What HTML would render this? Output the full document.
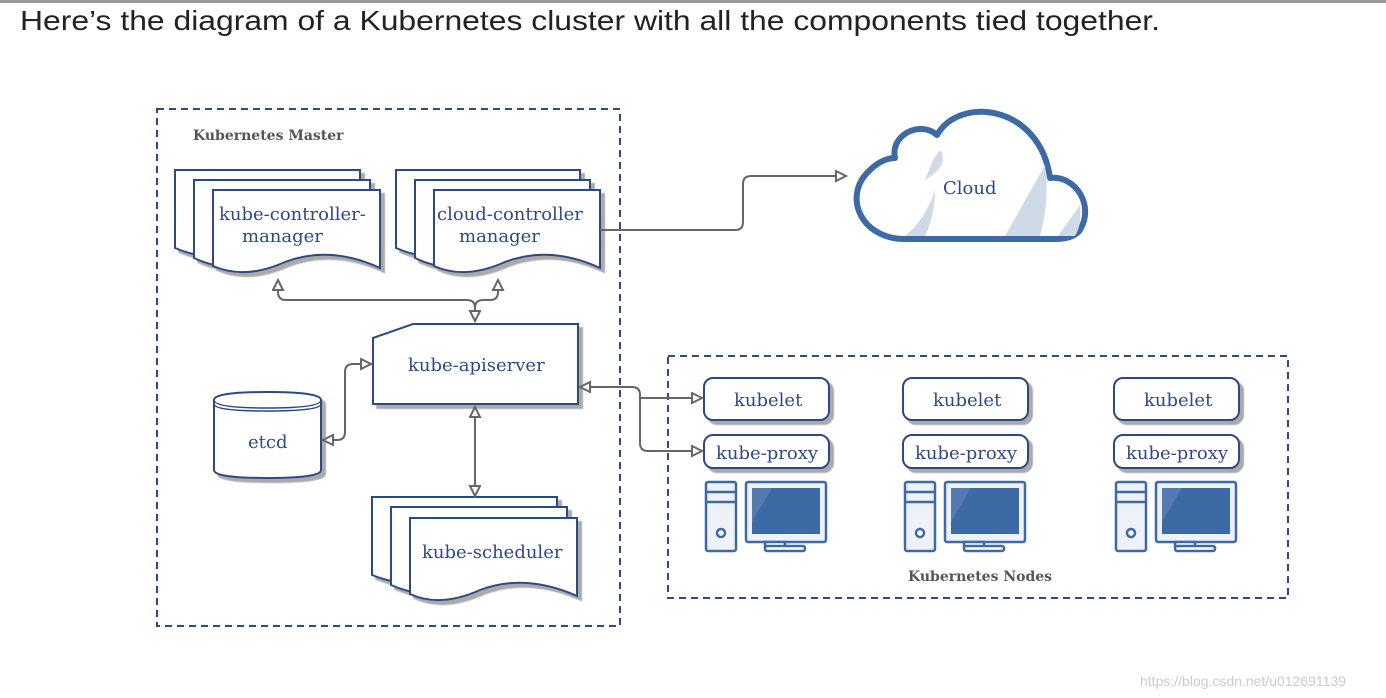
<!DOCTYPE html>
<html><head><meta charset="utf-8"><style>
html,body{margin:0;padding:0;background:#fff;width:1386px;height:698px;overflow:hidden}
svg{display:block}
.t{font-family:"DejaVu Serif","Liberation Serif",serif;fill:#2c4a86;font-size:18px}
.b{font-family:"DejaVu Serif","Liberation Serif",serif;fill:#555;font-size:14px;font-weight:bold}
</style></head><body>
<svg width="1386" height="698" viewBox="0 0 1386 698" xmlns="http://www.w3.org/2000/svg">
<defs>
<marker id="a" markerWidth="14" markerHeight="14" refX="11" refY="6" orient="auto-start-reverse" markerUnits="userSpaceOnUse">
<path d="M1,1 L11,6 L1,11 Z" fill="#fff" stroke="#666" stroke-width="2"/></marker>
<filter id="s" x="-10%" y="-10%" width="130%" height="130%"><feDropShadow dx="4" dy="4" stdDeviation="0.5" flood-color="#aaa"/></filter>
</defs>
<rect x="0" y="0" width="1386" height="3" fill="#999"/>
<text x="20" y="30" font-family="Liberation Sans,sans-serif" font-size="28" fill="#222" textLength="1140" lengthAdjust="spacingAndGlyphs">Here’s the diagram of a Kubernetes cluster with all the components tied together.</text>

<rect x="157" y="109" width="463" height="517" fill="none" stroke="#2c4a86" stroke-width="2" stroke-dasharray="7,5"/>
<rect x="668" y="356" width="620" height="242" fill="none" stroke="#2c4a86" stroke-width="2" stroke-dasharray="7,5"/>
<text class="b" x="193" y="140">Kubernetes Master</text>
<text class="b" x="908" y="581">Kubernetes Nodes</text>

<g fill="#fff" stroke="#2c4a86" stroke-width="2" filter="url(#s)">
<path d="M175,170 H360 V248 Q300,230 260,250 Q215,265 175,248 Z"/>
<path d="M194,180 H370 V258 Q310,240 270,260 Q230,275 194,258 Z"/>
<path d="M213,190 H380 V268 Q330,245 285,262 Q245,280 213,266 Z"/>
<path d="M396,170 H580 V248 Q520,230 480,250 Q435,265 396,248 Z"/>
<path d="M415,180 H590 V258 Q530,240 490,260 Q450,275 415,258 Z"/>
<path d="M434,190 H600 V268 Q550,245 505,262 Q465,280 434,266 Z"/>
<path d="M372,497 H557 V575 Q500,557 460,577 Q415,592 372,575 Z"/>
<path d="M391,507 H567 V585 Q510,567 470,587 Q430,602 391,585 Z"/>
<path d="M410,518 H577 V596 Q525,573 480,590 Q440,608 410,594 Z"/>
<path d="M373,338 L413,324 H578 V404 H373 Z"/>
<path d="M214,400 Q214,392 267,392 Q321,392 321,400 V470 Q321,478 267,478 Q214,478 214,470 Z"/>
</g>
<g fill="none" stroke="#2c4a86" stroke-width="1.5">
<path d="M214,400 Q214,408 267,408 Q321,408 321,400"/>
<path d="M214,404 Q214,411 267,411 Q321,411 321,404"/>
</g>
<text class="t" x="219" y="220">kube-controller-</text>
<text class="t" x="242" y="242">manager</text>
<text class="t" x="437" y="220">cloud-controller</text>
<text class="t" x="459" y="242">manager</text>
<text class="t" x="408" y="371">kube-apiserver</text>
<text class="t" x="248" y="448">etcd</text>
<text class="t" x="422" y="558">kube-scheduler</text>

<path d="M905,239 C860,239 842,195 870,170 C880,160 890,158 895,158 C890,135 920,120 937,135 C960,95 1040,105 1050,178 C1075,175 1095,205 1080,230 C1075,237 1065,239 1055,239 Z" fill="#fff" stroke="#3d6aa5" stroke-width="6" stroke-linejoin="round"/>
<path d="M940,150 Q950,165 925,180 L933,160 Z" fill="#cfdae7"/>
<path d="M935,190 Q925,220 905,236 L925,236 Q935,215 935,190 Z" fill="#cfdae7"/>
<path d="M1045,165 L1005,236 L1040,236 Q1050,200 1045,165 Z" fill="#cfdae7"/>
<path d="M1080,205 L1058,236 L1075,236 Q1082,225 1080,205 Z" fill="#cfdae7"/>
<text class="t" x="943" y="194">Cloud</text>

<g fill="none" stroke="#666" stroke-width="2">
<path d="M600,230 H735 Q743,230 743,222 V184 Q743,176 751,176 H846" marker-end="url(#a)"/>
<path d="M475,321 V308 Q475,300 467,300 H286 Q278,300 278,292 V280" marker-start="url(#a)" marker-end="url(#a)"/>
<path d="M475,308 Q475,300 483,300 H490 Q498,300 498,292 V280" marker-end="url(#a)"/>
<path d="M371,364 H353 Q345,364 345,372 V432 Q345,440 337,440 H323" marker-start="url(#a)" marker-end="url(#a)"/>
<path d="M475,407 V496" marker-start="url(#a)" marker-end="url(#a)"/>
<path d="M580,387 H632 Q640,387 640,395 V398 H702" marker-start="url(#a)" marker-end="url(#a)"/>
<path d="M640,398 V443 Q640,451 648,451 H702" marker-end="url(#a)"/>
</g>

<g id="n">
<g fill="#fff" stroke="#2c4a86" stroke-width="2" filter="url(#s)">
<rect x="704" y="378" width="125" height="42" rx="9"/>
<rect x="704" y="435" width="125" height="33" rx="9"/>
</g>
<text class="t" x="734" y="406">kubelet</text>
<text class="t" x="716" y="459">kube-proxy</text>
<g stroke="#3d6aa5" stroke-width="2.5" fill="#eef2f8">
<rect x="706" y="482" width="30" height="69" rx="2"/>
<line x1="706" y1="492" x2="736" y2="492"/><line x1="706" y1="502" x2="736" y2="502"/>
<circle cx="721" cy="533" r="4" fill="#fff"/>
<rect x="746" y="482" width="80" height="60" rx="2"/>
<rect x="765" y="542" width="20" height="5" fill="#fff"/>
<rect x="765" y="546" width="40" height="5" rx="2" fill="#fff"/>
</g>
<rect x="752" y="488" width="68" height="46" fill="#3d6aa5"/>
<path d="M772,488 L752,522 V488 Z" fill="#5579b0"/>
</g>
<use href="#n" x="199"/>
<use href="#n" x="410"/>

<text x="1140" y="686" font-family="Liberation Sans,sans-serif" font-size="14" fill="#ccc">https://blog.csdn.net/u012691139</text>
</svg>
</body></html>
